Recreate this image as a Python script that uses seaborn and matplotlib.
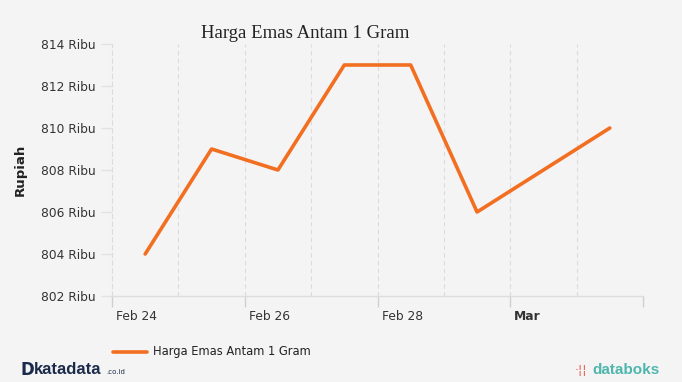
import matplotlib
matplotlib.use("Agg")
import matplotlib.pyplot as plt
import matplotlib.transforms as mtrans
import seaborn as sns
import pandas as pd

dates = ["2024-02-24 12:00", "2024-02-25 12:00", "2024-02-26 12:00", "2024-02-27 12:00",
         "2024-02-28 12:00", "2024-02-29 12:00", "2024-03-02 12:00"]
prices = [804, 809, 808, 813, 813, 806, 810]
series_name = "Harga Emas Antam 1 Gram"
yticks = [802, 804, 806, 808, 810, 812, 814]
xtick_dates = ["2024-02-24", "2024-02-26", "2024-02-28", "2024-03-01", "2024-03-03"]
xtick_labels = ["Feb 24", "Feb 26", "Feb 28", "Mar", ""]
grid_dates = pd.date_range("2024-02-25", "2024-03-03", freq="D")

df = pd.DataFrame({"date": pd.to_datetime(dates), "price": prices})

sns.set_theme(style="white")
plt.rcParams["font.family"] = ["DejaVu Sans"]
bg = "#f4f4f4"
fig = plt.figure(figsize=(6.82, 3.82), dpi=100, facecolor=bg)
ax = fig.add_axes([112/682, 1-296/382, (643-112)/682, (296-44)/382])
ax.set_facecolor(bg)

sns.lineplot(data=df, x="date", y="price", ax=ax, color="#f26f21", linewidth=2.6, legend=False)

ax.set_xlim(pd.Timestamp("2024-02-24"), pd.Timestamp("2024-03-03"))
ax.set_ylim(802, 814)
ax.set_yticks(yticks)
ax.set_yticklabels([f"{v} Ribu" for v in yticks], fontsize=8.8, color="#333333")
ax.set_xticks(pd.to_datetime(xtick_dates))
ax.set_xticklabels(xtick_labels, fontsize=8.8, color="#333333", ha="left")
for lbl in ax.get_xticklabels():
    if lbl.get_text() == "Mar":
        lbl.set_fontweight("bold")
ax.tick_params(axis="x", bottom=True, length=8, width=1, color="#d0d0d0", pad=2)
ax.tick_params(axis="y", left=True, length=8, width=1, color="#e2e2e2", pad=4)
offset = mtrans.ScaledTranslation(4/100, 0, fig.dpi_scale_trans)
for lbl in ax.get_xticklabels():
    lbl.set_transform(lbl.get_transform() + offset)

for d in grid_dates:
    ax.axvline(d, color="#dcdcdc", linestyle=(0, (4, 3)), linewidth=0.8, zorder=0)

for s in ["top", "right"]:
    ax.spines[s].set_visible(False)
ax.spines["left"].set_color("#dcdcdc")
ax.spines["left"].set_linestyle((0, (4, 3)))
ax.spines["left"].set_linewidth(0.8)
ax.spines["bottom"].set_color("#dddddd")
ax.spines["bottom"].set_linewidth(1)

ax.set_xlabel("")
ax.set_ylabel("Rupiah", fontsize=9.5, fontweight="bold", color="#222222", labelpad=10)

fig.text(305/682, 1-34/382, "Harga Emas Antam 1 Gram", family=["Liberation Serif"],
         fontsize=13.5, color="#222222", ha="center", va="center")

# legend
fig.add_artist(plt.Line2D([113/682, 147/682], [1-352/382, 1-352/382], color="#f26f21", linewidth=2.6))
fig.text(153/682, 1-352/382, series_name, fontsize=8.3, color="#222222", va="center", ha="left")

# logos as text
fig.text(21/682, 1-370/382, "D", fontsize=12, fontweight="bold", color="#1a2a4a", va="center", ha="left")
fig.text(34/682, 1-370/382, "katadata", fontsize=12, fontweight="bold", color="#1a2a4a",
         va="center", ha="left", family=["Liberation Sans"])
fig.text(106/682, 1-372/382, ".co.id", fontsize=5, color="#1a2a4a", va="center", ha="left")
fig.text(592/682, 1-370/382, "databoks", fontsize=11, fontweight="bold", color="#4fb6ad",
         va="center", ha="left", family=["Liberation Sans"])
fig.text(575/682, 1-370/382, "\u00b7\u00a6\u00a6", fontsize=9, color="#e8564a", va="center", ha="left")

fig.savefig("out.png", dpi=100, facecolor=bg)
